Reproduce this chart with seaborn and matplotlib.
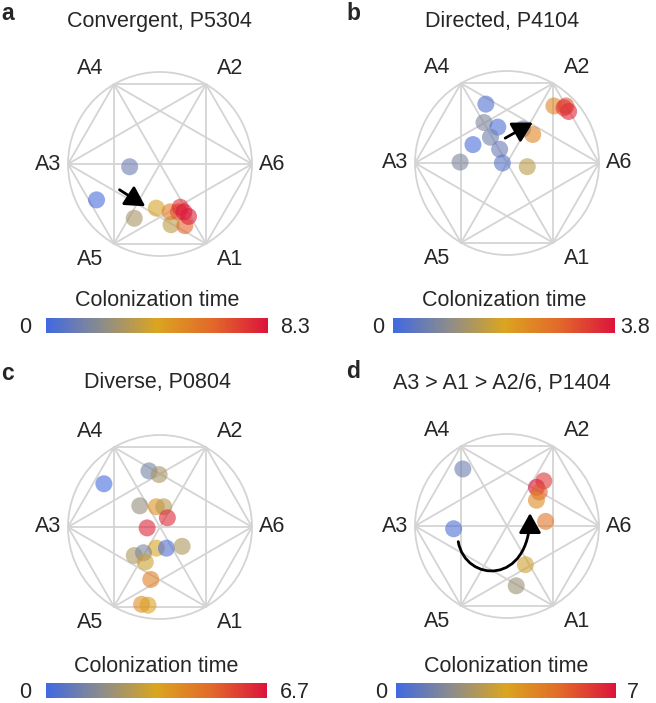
import numpy as np
import pandas as pd
import matplotlib
matplotlib.use('Agg')
import matplotlib.pyplot as plt
import seaborn as sns
from matplotlib.colors import LinearSegmentedColormap, Normalize
from matplotlib.cm import ScalarMappable
from matplotlib.path import Path
from matplotlib.patches import FancyArrowPatch, Circle

sns.set_theme(style='white')
plt.rcParams['font.family'] = ['Liberation Sans', 'DejaVu Sans']

# ---------------- data ----------------
vertex_names = ['A6', 'A2', 'A4', 'A3', 'A5', 'A1']
vertex_angles = [0, 60, 120, 180, 240, 300]

panel_letters = ['a', 'b', 'c', 'd']
titles = ['Convergent, P5304', 'Directed, P4104', 'Diverse, P0804',
          'A3 > A1 > A2/6, P1404']
tmax = [8.3, 3.8, 6.7, 7.0]
tmax_labels = ['8.3', '3.8', '6.7', '7']

a_x = [-0.33, -0.69, -0.28, -0.04, 0.12, 0.11, 0.27, 0.20, 0.22, 0.31, 0.26]
a_y = [-0.03, -0.39, -0.59, -0.48, -0.66, -0.52, -0.67, -0.52, -0.47, -0.57, -0.52]
a_t = [1.2, 0.2, 2.8, 4.0, 3.4, 5.6, 6.3, 6.8, 7.6, 8.0, 8.3]

b_x = [-0.23, -0.25, -0.10, -0.18, -0.37, -0.08, -0.51, -0.05, 0.17, 0.28, 0.22, 0.51, 0.64, 0.67, 0.62]
b_y = [0.64, 0.44, 0.39, 0.28, 0.20, 0.15, 0.01, 0.00, 0.37, 0.31, -0.04, 0.62, 0.62, 0.56, 0.60]
b_t = [0.2, 0.8, 0.15, 0.6, 0.1, 0.5, 0.8, 0.3, 0.5, 2.4, 1.5, 2.4, 3.1, 3.6, 3.4]

c_x = [-0.61, -0.12, -0.01, -0.22, -0.04, 0.04, 0.08, -0.14, -0.04, 0.07, 0.24, -0.28, -0.18, -0.16, -0.10, -0.20, -0.13]
c_y = [0.47, 0.61, 0.57, 0.23, 0.22, 0.22, 0.10, -0.01, -0.23, -0.23, -0.21, -0.31, -0.28, -0.38, -0.57, -0.84, -0.85]
c_t = [0.1, 1.2, 2.3, 1.9, 3.9, 2.6, 6.3, 6.4, 3.3, 0.3, 2.4, 2.4, 1.3, 3.1, 4.4, 4.0, 3.5]

d_x = [-0.48, -0.58, 0.40, 0.32, 0.35, 0.32, 0.42, 0.20, 0.10]
d_y = [0.62, -0.03, 0.49, 0.42, 0.37, 0.28, 0.05, -0.42, -0.65]
d_t = [1.0, 0.3, 6.3, 6.9, 5.4, 4.3, 4.9, 3.2, 2.1]

panel_data = [(a_x, a_y, a_t), (b_x, b_y, b_t), (c_x, c_y, c_t), (d_x, d_y, d_t)]

# annotation arrows (in unit-circle coordinates)
arrow_a = ((-0.44, -0.28), (-0.16, -0.46))
arrow_b = ((-0.02, 0.27), (0.28, 0.44))
arrow_d = [(-0.53, -0.17), (-0.45, -0.62), (0.25, -0.65), (0.25, 0.14)]

# ---------------- layout (pixels) ----------------
W, H = 656, 703
centers = [(160, 164), (507, 163), (160, 527), (507, 526)]
R = 92
title_pos = [(159, 21), (502, 22), (158, 382), (502, 383)]
letter_pos = [(8, 14), (353, 14), (8, 374), (353, 371)]
cbar_box = [(46, 318, 222, 15), (393, 318, 222, 15), (46, 683, 221, 15), (396, 683, 220, 15)]
cbar_title_y = [301, 301, 666, 666]
zero_x = [25, 378, 25, 381]
max_x = [295, 635, 295, 633]

cmap = LinearSegmentedColormap.from_list(
    'coltime', ['#4169E1', '#8c8c8c', '#DAA520', '#E2692A', '#DC143C'])

FS = 15.5
fig = plt.figure(figsize=(W / 100, H / 100), dpi=100)


def fx(x):
    return x / W


def fy(y):
    return 1 - y / H


line_c = '#d4d4d4'
ang = np.deg2rad(vertex_angles)
vx, vy = np.cos(ang), np.sin(ang)
astyle = '-|>,head_length=0.75,head_width=0.42'

for k in range(4):
    cx, cy = centers[k]
    ax = fig.add_axes([fx(cx - 1.5 * R), fy(cy + 1.5 * R), 3 * R / W, 3 * R / H])
    ax.set_xlim(-1.5, 1.5)
    ax.set_ylim(-1.5, 1.5)
    ax.set_aspect('equal')
    ax.axis('off')
    ax.add_patch(Circle((0, 0), 1, fill=False, ec=line_c, lw=1.3, zorder=1))
    for i in range(6):
        for j in range(i + 1, 6):
            ax.plot([vx[i], vx[j]], [vy[i], vy[j]], color=line_c, lw=1.3, zorder=1)
    for i, nm in enumerate(vertex_names):
        lx = 1.22 * vx[i] + (0.15 * np.sign(vx[i]) if abs(vy[i]) > 0.1 else 0)
        ly = 1.2 * vy[i]
        ax.text(lx, ly, nm, ha='center', va='center', fontsize=FS)

    xs, ys, ts = panel_data[k]
    df = pd.DataFrame({'x': xs, 'y': ys, 't': ts})
    sns.scatterplot(data=df, x='x', y='y', hue='t', palette=cmap,
                    hue_norm=(0, tmax[k]), s=150, alpha=0.6, linewidth=0,
                    legend=False, ax=ax, zorder=3)
    ax.set_xlabel('')
    ax.set_ylabel('')

    if k == 0 or k == 1:
        st, en = arrow_a if k == 0 else arrow_b
        ax.annotate('', xy=en, xytext=st,
                    arrowprops=dict(arrowstyle=astyle, color='black', lw=2,
                                    mutation_scale=16, shrinkA=0, shrinkB=0),
                    zorder=5)
    if k == 3:
        path = Path(arrow_d, [Path.MOVETO, Path.CURVE4, Path.CURVE4, Path.CURVE4])
        ax.add_patch(FancyArrowPatch(path=path, arrowstyle=astyle,
                                     color='black', lw=2, mutation_scale=16, zorder=5))

    fig.text(fx(title_pos[k][0]), fy(title_pos[k][1]), titles[k],
             ha='center', va='center', fontsize=FS)
    fig.text(fx(letter_pos[k][0]), fy(letter_pos[k][1]), panel_letters[k],
             ha='center', va='center', fontsize=FS + 1, fontweight='bold')

    x0, y0, w, h = cbar_box[k]
    cax = fig.add_axes([fx(x0), fy(y0 + h), w / W, h / H])
    cb = fig.colorbar(ScalarMappable(norm=Normalize(0, tmax[k]), cmap=cmap),
                      cax=cax, orientation='horizontal')
    cb.set_ticks([])
    cb.outline.set_visible(False)
    fig.text(fx(x0 + w / 2), fy(cbar_title_y[k]), 'Colonization time',
             ha='center', va='center', fontsize=FS)
    base = y0 + h / 2 + 7.5
    fig.text(fx(zero_x[k]), fy(base), '0', ha='center', va='baseline', fontsize=FS)
    fig.text(fx(max_x[k]), fy(base), tmax_labels[k], ha='center', va='baseline',
             fontsize=FS)

fig.savefig('out.png', dpi=100)
